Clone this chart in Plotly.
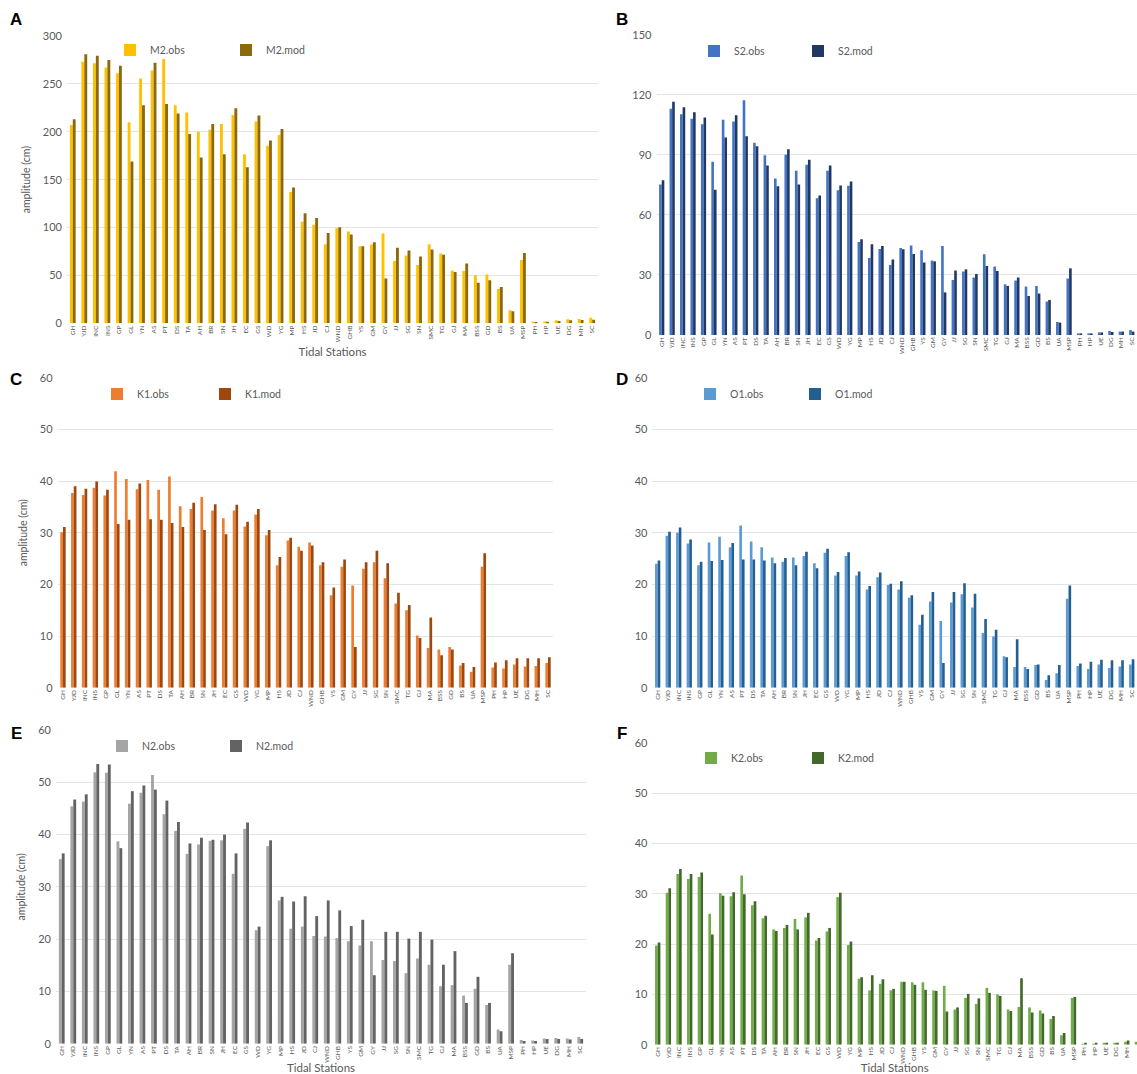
import plotly.graph_objects as go

# Tidal stations (SN occurs twice, so bars are placed by index and labelled with ticktext)
stations = ["GH", "YJD", "INC", "INS", "GP", "GL", "YN", "AS", "PT", "DS", "TA", "AH", "BR", "SN",
            "JH", "EC", "GS", "WD", "YG", "MP", "HS", "JD", "CJ", "WND", "GHB", "YS", "GM", "GY",
            "JJ", "SG", "SN", "SMC", "TG", "GJ", "MA", "BSS", "GD", "BS", "UA", "MSP", "PH", "HP",
            "UE", "DG", "MH", "SC"]

# Amplitudes (cm), observed vs modelled, per constituent
m2_obs = [207, 273, 271.5, 267, 261, 210, 255.5, 264, 276, 227.6, 220, 200, 202, 208, 217.5, 176.5,
          210.6, 185.5, 196.6, 137, 106, 103, 82.6, 99.3, 95.8, 80.5, 82.3, 93.8, 65, 70.8, 61, 82.6,
          73, 55.2, 54.5, 50.3, 51, 35.8, 13.5, 66, 2, 2, 3.1, 4.2, 4.5, 5.9]
m2_mod = [213, 281, 279.5, 275, 269, 169, 227.6, 272, 229, 219, 197.7, 173, 208, 176.5, 224.5, 163,
          217, 191, 203, 141.7, 115, 110, 94.4, 100.3, 92.7, 80.5, 84.7, 46.9, 79, 76, 69.8, 77,
          71.5, 53.5, 62.5, 42.4, 45, 37.8, 12.5, 73.3, 1.4, 1.7, 2.4, 3.1, 3.5, 3.8]

s2_obs = [75.2, 113, 110.3, 108, 105.3, 86.5, 107.5, 106.7, 117.2, 96, 89.8, 78.2, 90, 82, 85, 68.3,
          82, 72.3, 74.5, 46.5, 38.5, 43, 35, 43.5, 44.7, 42.3, 37.2, 44.5, 27.5, 31.7, 28.7, 40.3,
          34.2, 25.3, 27.2, 24.2, 24.5, 16.7, 6.5, 28.2, 0.8, 0.8, 1.3, 2, 1.7, 2.5]
s2_mod = [77.3, 116.5, 113.7, 111.3, 108.7, 72.5, 98.7, 109.8, 99.3, 94.3, 84.7, 74.3, 92.8, 75.2,
          87.5, 69.7, 84.7, 74.7, 76.7, 47.8, 45.3, 44.5, 37.7, 42.8, 40.5, 36.2, 36.8, 21.3, 32.2,
          32.8, 30.5, 34.5, 32, 24.5, 28.7, 19.5, 20.7, 17.5, 6.2, 33.3, 0.8, 0.8, 1.3, 1.5, 1.7, 1.7]

k1_obs = [30.1, 37.7, 37.3, 38.7, 37.2, 41.9, 40.4, 38.4, 40.2, 38.3, 40.9, 35.1, 34.6, 36.9, 34.3,
          32.8, 34.3, 31.2, 33.5, 29.5, 23.7, 28.5, 27.3, 28.1, 23.7, 17.9, 23.4, 19.8, 23, 24.3,
          21.2, 16.3, 15, 10.1, 7.7, 7.4, 7.9, 4.3, 3.1, 23.4, 3.9, 3.7, 4.5, 4.1, 4.2, 4.8]
k1_mod = [31.1, 39, 38.5, 39.9, 38.3, 31.7, 32.5, 39.5, 32.6, 32.5, 31.9, 31.1, 35.8, 30.5, 35.5,
          29.7, 35.4, 32.1, 34.6, 30.5, 25.3, 29, 26.5, 27.5, 24.3, 19.4, 24.8, 7.9, 24.3, 26.5,
          24.1, 18.4, 16, 9.6, 13.6, 6.3, 7.4, 4.8, 4, 26, 4.9, 5.3, 5.7, 5.7, 5.7, 5.9]

o1_obs = [24, 29.4, 30, 27.9, 23.7, 28.1, 29.2, 27.2, 31.4, 28.3, 27.2, 25.2, 24.4, 25.2, 25.5, 24.1,
          26.1, 21.7, 25.5, 21.7, 19, 21.4, 19.9, 19, 17.4, 12.2, 16.7, 12.9, 16.5, 18.1, 15.5, 10.6,
          9.9, 6.1, 4, 4, 4.4, 1.5, 2.8, 17.2, 4.2, 3.6, 4.5, 3.8, 4.1, 4.5]
o1_mod = [24.6, 30.2, 31, 28.7, 24.4, 24.5, 24.7, 28, 24.8, 24.8, 24.6, 24.1, 25.1, 23.7, 26.3, 23.1,
          26.9, 22.4, 26.2, 22.5, 19.7, 22.3, 20.1, 20.6, 17.9, 14.1, 18.5, 4.8, 18.5, 20.2, 18.2,
          13.3, 11.2, 5.9, 9.4, 3.6, 4.5, 2.4, 4.4, 19.8, 4.7, 5, 5.4, 5.3, 5.3, 5.5]

n2_obs = [35.3, 45.4, 46.3, 51.9, 51.8, 38.7, 45.9, 48, 51.4, 43.9, 40.7, 36.3, 38.1, 38.8, 38.9,
          32.5, 41.1, 21.7, 37.8, 27.4, 22, 22.4, 20.6, 20.5, 20.2, 19.6, 18.8, 19.6, 16, 15.8, 13.5,
          16.3, 15.1, 11, 11.2, 9.2, 10.5, 7.4, 2.7, 15.1, 0.7, 0.6, 1, 1.1, 1, 1.3]
n2_mod = [36.4, 46.7, 47.7, 53.5, 53.4, 37.4, 48.3, 49.4, 48.6, 46.5, 42.4, 38.3, 39.4, 39, 40, 36.4,
          42.3, 22.4, 38.9, 28.1, 27.2, 28.2, 24.4, 27.4, 25.5, 22.5, 23.7, 13.1, 21.4, 21.4, 20.1,
          21.4, 19.9, 15.1, 17.7, 7.8, 12.8, 7.8, 2.4, 17.3, 0.5, 0.5, 0.9, 0.9, 0.8, 0.9]

k2_obs = [19.7, 30.2, 33.9, 32.9, 33.3, 26, 30.1, 29.5, 33.6, 27.7, 25.1, 22.9, 23.2, 25, 25.3, 20.7,
          22.5, 29.3, 19.8, 13.1, 10.8, 12.1, 10.8, 12.5, 12.4, 12.4, 10.8, 11.7, 7, 9.3, 8.1, 11.3,
          10, 7, 7.5, 7.4, 6.8, 5.1, 1.9, 9.3, 0.15, 0.15, 0.3, 0.3, 0.6, 0.6]
k2_mod = [20.3, 31.1, 34.9, 33.9, 34.2, 21.9, 29.6, 30.3, 29.9, 28.5, 25.6, 22.6, 23.8, 22.9, 26.2,
          21.2, 23.2, 30.2, 20.5, 13.4, 13.8, 13, 11.1, 12.5, 11.9, 10.9, 10.7, 6.6, 7.4, 10.1, 9.2,
          10.3, 9.7, 6.7, 13.2, 6.4, 6.2, 5.7, 2.3, 9.5, 0.25, 0.3, 0.4, 0.4, 0.85, 0.5]

W, H = 1137, 1074
FONT = "Lato"
GREY = "#595959"


def px(x):
    return x / W


def py(y):
    return 1 - y / H


# name, obs, mod, obs colour, mod colour, x pixel span, y pixel (zero, top), y max, dtick,
# y title?, x title?, legend text-start pixels (obs, mod, y), panel letter position, x range end
panels = [
    ("M2", m2_obs, m2_mod, "#FFC000", "#8C6A0C", (67, 598), (323.3, 36), 300, 50, True, True,
     (150, 266, 50), ("A", 16, 20), 45.5),
    ("S2", s2_obs, s2_mod, "#4472C4", "#203864", (656.5, 1137), (335, 34.7), 150, 30, False, False,
     (734, 838, 51), ("B", 622, 20), 45.5),
    ("K1", k1_obs, k1_mod, "#ED7D31", "#9E480E", (57.6, 553.4), (687.7, 377.7), 60, 10, True, False,
     (137, 245, 394), ("C", 16, 380), 45.5),
    ("O1", o1_obs, o1_mod, "#5B9BD5", "#255E91", (652.4, 1137), (687.7, 377.7), 60, 10, False, False,
     (730, 835, 394), ("D", 622, 380), 45.5),
    ("N2", n2_obs, n2_mod, "#A5A5A5", "#636363", (56, 586), (1043.7, 730), 60, 10, True, True,
     (142, 256, 746), ("E", 16, 733), 45.5),
    ("K2", k2_obs, k2_mod, "#70AD47", "#43682B", (652.4, 1137), (1044.7, 742.7), 60, 10, False, True,
     (731, 838, 758), ("F", 622, 733), 44.96),
]

fig = go.Figure()
idx = list(range(len(stations)))
annotations = []
layout = dict(
    width=W, height=H, margin=dict(l=0, r=0, t=0, b=0, autoexpand=False),
    paper_bgcolor="white", plot_bgcolor="white",
    barmode="group", bargap=0.5, bargroupgap=0,
    font=dict(family=FONT, color=GREY),
    showlegend=True,
)

for i, (name, obs, mod, c_obs, c_mod, xs, ys, ymax, dtick, ytitle, xtitle, leg, letter, xend) in enumerate(panels):
    n = i + 1
    xa = "x" if n == 1 else f"x{n}"
    ya = "y" if n == 1 else f"y{n}"
    # one legend per series, so each label sits where it belongs in its panel
    lg_obs = f"legend{2 * i + 2}"
    lg_mod = f"legend{2 * i + 3}"
    fig.add_trace(go.Bar(x=idx, y=obs, name=f"{name}.obs", marker=dict(color=c_obs, line_width=0),
                         xaxis=xa, yaxis=ya, legend=lg_obs, offsetgroup="obs", showlegend=True))
    fig.add_trace(go.Bar(x=idx, y=mod, name=f"{name}.mod", marker=dict(color=c_mod, line_width=0),
                         xaxis=xa, yaxis=ya, legend=lg_mod, offsetgroup="mod", showlegend=True))

    xkey = "xaxis" if n == 1 else f"xaxis{n}"
    ykey = "yaxis" if n == 1 else f"yaxis{n}"
    layout[xkey] = dict(
        domain=[px(xs[0]), px(xs[1])], anchor=ya, range=[-0.5, xend], automargin=False,
        tickmode="array", tickvals=idx, ticktext=stations, tickangle=-90,
        tickfont=dict(size=6.5, color=GREY, family=FONT), ticks="", showgrid=False,
        showline=False, zeroline=False, fixedrange=True,
        title=dict(text="Tidal Stations" if xtitle else "", font=dict(size=11.5, color=GREY),
                   standoff=6),
    )
    layout[ykey] = dict(
        domain=[py(ys[0]), py(ys[1])], anchor=xa, range=[0, ymax], dtick=dtick, tick0=0,
        automargin=False,
        showgrid=True, gridcolor="#E4E4E4", gridwidth=1, zeroline=False, showline=False,
        ticks="", tickfont=dict(size=11, color=GREY, family=FONT), ticklabelstandoff=4,
        title=dict(text="amplitude (cm)" if ytitle else "", font=dict(size=10.5, color=GREY),
                   standoff=10),
    )
    for lg, xtext in ((lg_obs, leg[0]), (lg_mod, leg[1])):
        layout[lg] = dict(
            x=px(xtext - 40), y=py(leg[2]), xanchor="left", yanchor="middle",
            orientation="h", bgcolor="rgba(0,0,0,0)", borderwidth=0,
            font=dict(size=10.5, color=GREY, family=FONT),
        )
    annotations.append(dict(
        text=f"<b>{letter[0]}</b>", x=px(letter[1]), y=py(letter[2]), xref="paper", yref="paper",
        xanchor="center", yanchor="middle", showarrow=False,
        font=dict(size=17, color="black", family="Liberation Sans"),
    ))

layout["annotations"] = annotations
fig.update_layout(**layout)
fig.write_html("out.html")
